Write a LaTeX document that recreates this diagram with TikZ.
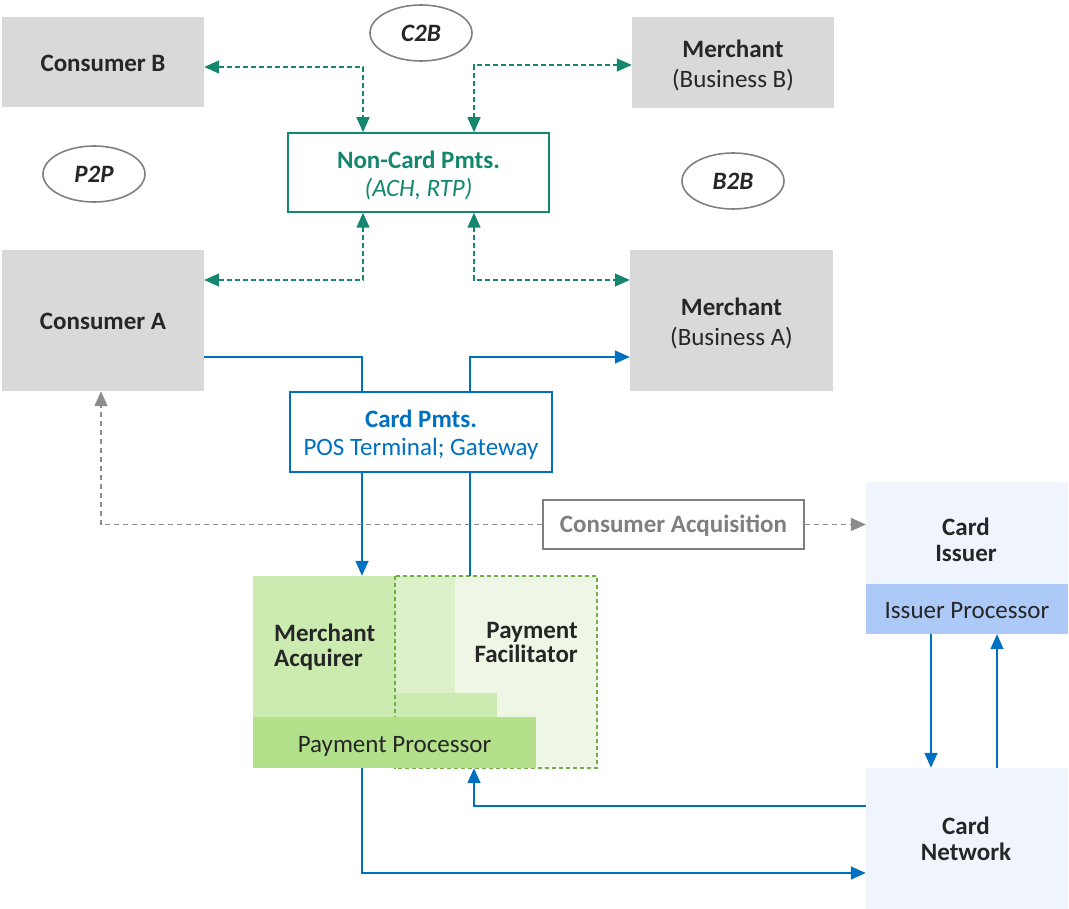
\documentclass[tikz,border=0pt]{standalone}
\usepackage{fontspec}
\setmainfont{Carlito}
\usetikzlibrary{arrows.meta,shapes.geometric}
\definecolor{boxgray}{HTML}{D9D9D9}
\definecolor{ncteal}{HTML}{15876F}
\definecolor{cardblue}{HTML}{0070C0}
\definecolor{txt}{HTML}{262626}
\definecolor{acqgray}{HTML}{8C8C8C}
\definecolor{acqtext}{HTML}{7F7F7F}
\definecolor{issfill}{HTML}{F0F5FD}
\definecolor{issprocfill}{HTML}{ADC9F8}
\definecolor{acqgreen}{HTML}{CCEBB0}
\definecolor{overgreen}{HTML}{DCF0CA}
\definecolor{facgreen}{HTML}{EEF7E6}
\definecolor{procgreen}{HTML}{B3E08A}
\definecolor{facline}{HTML}{70AD47}
\definecolor{ovalline}{HTML}{808080}
\begin{document}
\begin{tikzpicture}[x=1pt,y=-1pt,
  font=\fontsize{25}{30}\selectfont, text=txt,
  >={Triangle[length=15pt,width=13pt]},
  gbox/.style={rectangle, fill=boxgray, inner sep=0pt},
  oval/.style={ellipse, draw=ovalline, line width=1.6pt, inner sep=0pt,
    minimum width=102pt, minimum height=56pt, font=\fontsize{25}{30}\selectfont\bfseries\itshape},
  paybox/.style={rectangle, fill=white, line width=1.5pt, inner sep=0pt},
  lbox/.style={rectangle, fill=issfill, inner sep=0pt},
  flat/.style={rectangle, inner sep=0pt},
  tealflow/.style={draw=ncteal, line width=1.5pt, dash pattern=on 5pt off 3pt, <->},
  blueflow/.style={draw=cardblue, line width=1.5pt},
  grayflow/.style={draw=acqgray, line width=1.5pt, dash pattern=on 5pt off 4pt},
  txtnode/.style={inner sep=0pt, align=center}]
\useasboundingbox (0,0) rectangle (1069,909);

% parties
\node[gbox, minimum width=202pt, minimum height=90pt] (consB) at (103,62) {};
\node[txtnode, font=\fontsize{25}{30}\selectfont\bfseries] (consBtxt)
  at ([yshift=-1pt]consB.center) {Consumer B};
\node[gbox, minimum width=202pt, minimum height=91pt] (merchB) at (733,62.5) {};
\node[txtnode] (merchBtxt) at ([yshift=-3pt]merchB.center) {\textbf{Merchant}\\(Business B)};
\node[gbox, minimum width=202pt, minimum height=141pt] (consA) at (103,320.5) {};
\node[txtnode, font=\fontsize{25}{30}\selectfont\bfseries] (consAtxt)
  at ([yshift=-1pt]consA.center) {Consumer A};
\node[gbox, minimum width=203pt, minimum height=141pt] (merchA) at (731.5,320.5) {};
\node[txtnode] (merchAtxt) at ([yshift=-2.5pt]merchA.center) {\textbf{Merchant}\\(Business A)};

% payment segments
\node[oval] (c2b) at (421,33) {C2B};
\node[oval] (p2p) at (94,174) {P2P};
\node[oval] (b2b) at (733,181) {B2B};

% payment rails
\node[paybox, draw=ncteal, minimum width=261pt, minimum height=79pt] (noncard) at (418.5,172.5) {};
\node[txtnode, text=ncteal, font=\fontsize{25}{28}\selectfont] (noncardtxt)
  at ([yshift=-2.5pt]noncard.center) {\textbf{Non-Card Pmts.}\\\textit{(ACH, RTP)}};
\node[paybox, draw=cardblue, minimum width=262pt, minimum height=80pt] (cardp) at (421,432) {};
\node[txtnode, text=cardblue, font=\fontsize{25}{28}\selectfont] (cardptxt)
  at ([yshift=-2.5pt]cardp.center) {\textbf{Card Pmts.}\\POS Terminal; Gateway};

% acquiring side
\node[flat, fill=facgreen, minimum width=202pt, minimum height=192pt] (fac) at (496,672) {};
\fill[overgreen] (395,576) rectangle (455,693);
\node[flat, fill=acqgreen, minimum width=142pt, minimum height=141pt] (acq) at (324,646.5) {};
\fill[acqgreen] (395,693) rectangle (497,717);
\draw[facline, line width=1.5pt, dash pattern=on 4pt off 3pt] (fac.north west) rectangle (fac.south east);
\node[flat, fill=procgreen, minimum width=283pt, minimum height=51pt] (proc) at (394.5,742.5) {};
\node[txtnode] (proctxt) at ([yshift=-3.5pt]proc.center) {Payment Processor};
\node[txtnode, anchor=west, align=left, font=\fontsize{25}{25}\selectfont\bfseries] (acqtxt)
  at (274,647) {Merchant\\Acquirer};
\node[txtnode, anchor=east, align=right, font=\fontsize{25}{24}\selectfont\bfseries] (factxt)
  at (578,642) {Payment\\Facilitator};

% issuing side and network
\node[lbox, minimum width=202pt, minimum height=152pt] (issuer) at (967,558) {};
\node[flat, fill=issprocfill, minimum width=202pt, minimum height=50pt] (issproc) at (967,609) {};
\node[txtnode] (issproctxt) at ([yshift=-2pt]issproc.center) {Issuer Processor};
\node[txtnode, font=\fontsize{25}{26}\selectfont\bfseries] (isstxt) at (966,539.5) {Card\\Issuer};
\node[lbox, minimum width=202pt, minimum height=141pt] (cardnet) at (967,838.5) {};
\node[txtnode, font=\fontsize{25}{26}\selectfont\bfseries] (nettxt) at (966,839) {Card\\Network};

% consumer acquisition
\node[paybox, draw=acqtext, line width=1.2pt, minimum width=261pt, minimum height=49pt]
  (acqbox) at (673.5,524.5) {};
\node[txtnode, text=acqtext, font=\fontsize{25}{30}\selectfont\bfseries] (acqboxtxt)
  at ([yshift=-1.5pt]acqbox.center) {Consumer Acquisition};

% x positions of the vertical runs
\coordinate (tl) at (363,0);
\coordinate (tr) at (474,0);
\coordinate (bl) at (362,0);
\coordinate (br) at (470,0);
\coordinate (nr) at (474,0);
\coordinate (il) at (931,0);
\coordinate (ir) at (997,0);

% non-card flows
\draw[tealflow] ([yshift=-5pt]consB.east) -| (noncard.north -| tl);
\draw[tealflow] (noncard.north -| tr) |- ([yshift=-2.5pt]merchB.west);
\draw[tealflow] (noncard.south -| tl) |- ([yshift=40.5pt]consA.east);
\draw[tealflow] (noncard.south -| tr) |- ([yshift=40.5pt]merchA.west);

% card flows
\draw[blueflow] ([yshift=-36.5pt]consA.east) -| (cardp.north -| bl);
\draw[blueflow, ->] (cardp.north -| br) |- ([yshift=-36.5pt]merchA.west);
\draw[blueflow, ->] (cardp.south -| bl) -- (acq.north -| bl);
\draw[blueflow] (cardp.south -| br) -- (fac.north -| br);
\draw[blueflow, ->] (proc.south -| bl) |- ([yshift=-34.5pt]cardnet.west);
\draw[blueflow, ->] ([yshift=32.5pt]cardnet.west) -| (fac.south -| nr);
\draw[blueflow, ->] (issproc.south -| il) -- (cardnet.north -| il);
\draw[blueflow, ->] (cardnet.north -| ir) -- (issproc.south -| ir);

% acquisition flows
\draw[grayflow, ->] (acqbox.west) -| ([xshift=-2pt]consA.south);
\draw[grayflow, ->] (acqbox.east) -- (acqbox.east -| issuer.west);
\end{tikzpicture}
\end{document}
